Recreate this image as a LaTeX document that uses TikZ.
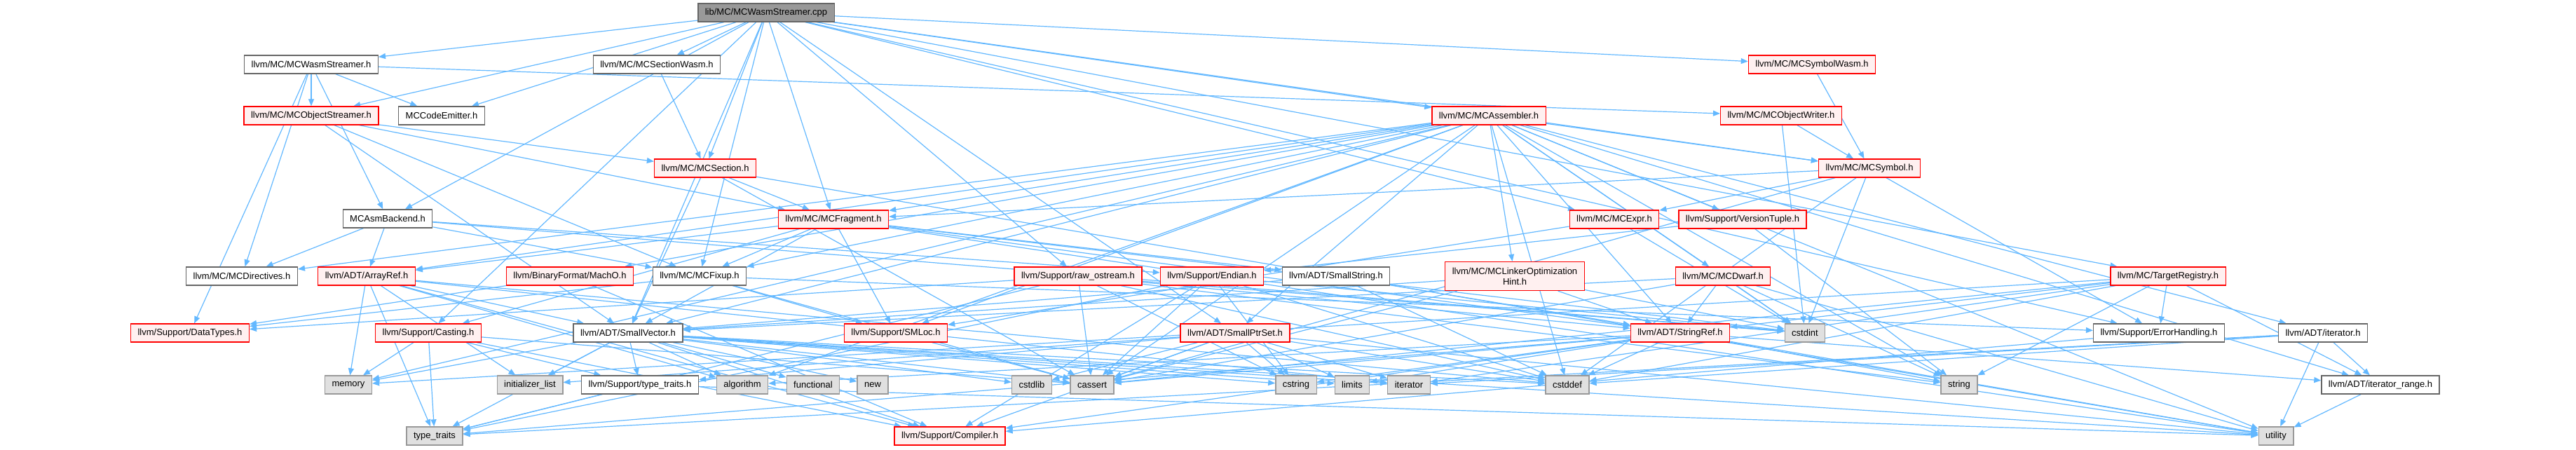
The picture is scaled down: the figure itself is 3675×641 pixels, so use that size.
\documentclass[tikz,border=0pt]{standalone}
\usepackage{fontspec}
\setmainfont{Liberation Sans}
\usepackage{tikz}
\usetikzlibrary{arrows.meta,positioning}
\definecolor{inclblue}{HTML}{63B8FF}
\definecolor{truncfill}{HTML}{FFF0F0}
\definecolor{sysfill}{HTML}{E0E0E0}
\pgfdeclarelayer{back}
\pgfsetlayers{back,main}
\tikzset{
  hdrbox/.style={draw=black!60, fill=white, line width=1.3pt, minimum height=26pt,
    inner xsep=10pt, inner ysep=2pt, font=\fontsize{13}{15}\selectfont},
  trunc/.style={hdrbox, draw=red, fill=truncfill},
  stdbox/.style={hdrbox, draw=black!40, fill=sysfill},
  srcbox/.style={hdrbox, draw=black!60, fill=black!40},
  incl/.style={draw=inclblue, line width=1.2pt, -{Triangle[length=10pt,width=8pt]}}
}
\begin{document}
\begin{tikzpicture}[x=1pt,y=-1pt]
  \useasboundingbox (0,0) rectangle (3675,641);
  \node[srcbox] (root) at (1093,18) {lib/MC/MCWasmStreamer.cpp};
  \node[hdrbox] (wstr) at (444,92) {llvm/MC/MCWasmStreamer.h};
  \node[hdrbox] (secw) at (937,92) {llvm/MC/MCSectionWasm.h};
  \node[trunc] (symw) at (2585,92) {llvm/MC/MCSymbolWasm.h};
  \node[trunc] (ostr) at (444,165) {llvm/MC/MCObjectStreamer.h};
  \node[hdrbox] (cemit) at (630,165) {MCCodeEmitter.h};
  \node[trunc] (asm) at (2124,165) {llvm/MC/MCAssembler.h};
  \node[trunc] (owr) at (2541,165) {llvm/MC/MCObjectWriter.h};
  \node[trunc] (sect) at (1006,240) {llvm/MC/MCSection.h};
  \node[trunc] (sym) at (2667,240) {llvm/MC/MCSymbol.h};
  \node[hdrbox] (asmb) at (553,312) {MCAsmBackend.h};
  \node[trunc] (frag) at (1189,313) {llvm/MC/MCFragment.h};
  \node[trunc] (expr) at (2303,313) {llvm/MC/MCExpr.h};
  \node[trunc] (vtup) at (2486,313) {llvm/Support/VersionTuple.h};
  \node[hdrbox] (dirs) at (345,394) {llvm/MC/MCDirectives.h};
  \node[trunc] (arref) at (523,394) {llvm/ADT/ArrayRef.h};
  \node[trunc] (macho) at (813,394) {llvm/BinaryFormat/MachO.h};
  \node[hdrbox] (fixup) at (998,394) {llvm/MC/MCFixup.h};
  \node[trunc] (rawos) at (1538,394) {llvm/Support/raw\_ostream.h};
  \node[trunc] (endian) at (1729,394) {llvm/Support/Endian.h};
  \node[hdrbox] (sstr) at (1906,394) {llvm/ADT/SmallString.h};
  \node[trunc, align=center, minimum height=41pt] (lohint) at (2161,394)
    {llvm/MC/MCLinkerOptimization\\Hint.h};
  \node[trunc] (dwarf) at (2458,394) {llvm/MC/MCDwarf.h};
  \node[trunc] (treg) at (3093,394) {llvm/MC/TargetRegistry.h};
  \node[trunc] (dtypes) at (271,475) {llvm/Support/DataTypes.h};
  \node[trunc] (cast) at (611,475) {llvm/Support/Casting.h};
  \node[hdrbox] (svec) at (896,475) {llvm/ADT/SmallVector.h};
  \node[trunc] (smloc) at (1278,475) {llvm/Support/SMLoc.h};
  \node[trunc] (sptr) at (1762,475) {llvm/ADT/SmallPtrSet.h};
  \node[trunc] (sref) at (2397,475) {llvm/ADT/StringRef.h};
  \node[stdbox] (cstdint) at (2575,475) {cstdint};
  \node[hdrbox] (errh) at (3080,475) {llvm/Support/ErrorHandling.h};
  \node[hdrbox] (itr) at (3314,475) {llvm/ADT/iterator.h};
  \node[stdbox] (memory) at (497,549) {memory};
  \node[stdbox] (initlist) at (756,549) {initializer\_list};
  \node[hdrbox] (sttr) at (913,549) {llvm/Support/type\_traits.h};
  \node[stdbox] (algo) at (1059,549) {algorithm};
  \node[stdbox] (func) at (1160,549) {functional};
  \node[stdbox] (newh) at (1245,549) {new};
  \node[stdbox] (cstdlib) at (1472,549) {cstdlib};
  \node[stdbox] (cassert) at (1558,549) {cassert};
  \node[stdbox] (cstring) at (1849,549) {cstring};
  \node[stdbox] (limits) at (1929,549) {limits};
  \node[stdbox] (iterator) at (2010,549) {iterator};
  \node[stdbox] (cstddef) at (2236,549) {cstddef};
  \node[stdbox] (string) at (2795,549) {string};
  \node[hdrbox] (itrng) at (3396,549) {llvm/ADT/iterator\_range.h};
  \node[stdbox] (ttraits) at (620,622) {type\_traits};
  \node[trunc] (compiler) at (1355,622) {llvm/Support/Compiler.h};
  \node[stdbox] (utility) at (3247,622) {utility};
  \begin{pgfonlayer}{back}
    \foreach \b in {wstr,secw,symw,ostr,cemit,asm,sect,sym,asmb,frag,expr,fixup,rawos,treg,cast,errh,sptr,svec}
      \draw[incl] (root) -- (\b);
    \foreach \b in {ostr,cemit,owr,asmb,dirs,dtypes}
      \draw[incl] (wstr) -- (\b);
    \draw[incl] (secw) -- (sect);
    \draw[incl] (symw) -- (sym);
    \foreach \b in {sect,frag,fixup,svec}
      \draw[incl] (ostr) -- (\b);
    \foreach \b in {arref,macho,dirs,dwarf,fixup,frag,lohint,sym,smloc,vtup,sptr,svec,sref,itr,itrng,algo,cassert,cstddef,cstdint,memory,string,utility}
      \draw[incl] (asm) -- (\b);
    \foreach \b in {sym,cstdint}
      \draw[incl] (owr) -- (\b);
    \foreach \b in {frag,svec,cassert,utility}
      \draw[incl] (sect) -- (\b);
    \foreach \b in {expr,frag,errh,cassert,cstddef,cstdint}
      \draw[incl] (sym) -- (\b);
    \foreach \b in {arref,dirs,fixup,endian,cstdint}
      \draw[incl] (asmb) -- (\b);
    \foreach \b in {arref,sstr,svec,sref,fixup,cast,smloc,cstdint,utility}
      \draw[incl] (frag) -- (\b);
    \foreach \b in {smloc,cstdint}
      \draw[incl] (expr) -- (\b);
    \foreach \b in {endian,string}
      \draw[incl] (vtup) -- (\b);
    \foreach \b in {svec,compiler,algo,cstddef,initlist,iterator,memory,ttraits}
      \draw[incl] (arref) -- (\b);
    \foreach \b in {dtypes,compiler}
      \draw[incl] (macho) -- (\b);
    \foreach \b in {dtypes,errh,smloc,cassert}
      \draw[incl] (fixup) -- (\b);
    \foreach \b in {sref,dtypes,cassert,cstddef,cstdint,cstring,string,ttraits}
      \draw[incl] (rawos) -- (\b);
    \foreach \b in {compiler,cassert,cstddef,cstdint,cstring,ttraits}
      \draw[incl] (endian) -- (\b);
    \foreach \b in {svec,sref,cstddef}
      \draw[incl] (sstr) -- (\b);
    \foreach \b in {svec,sref,cassert,cstdint}
      \draw[incl] (lohint) -- (\b);
    \foreach \b in {svec,sref,cassert,cstdint,string,utility}
      \draw[incl] (dwarf) -- (\b);
    \foreach \b in {sref,itrng,errh,cassert,cstddef,iterator,memory,string}
      \draw[incl] (treg) -- (\b);
    \foreach \b in {compiler,sttr,cassert,memory,ttraits}
      \draw[incl] (cast) -- (\b);
    \foreach \b in {compiler,sttr,algo,cassert,cstddef,cstdlib,cstring,func,initlist,iterator,limits,memory,newh,ttraits,utility}
      \draw[incl] (svec) -- (\b);
    \draw[incl] (smloc) -- (cassert);
    \foreach \b in {compiler,sttr,cassert,cstddef,cstdlib,cstring,initlist,iterator,limits,utility}
      \draw[incl] (sptr) -- (\b);
    \foreach \b in {itrng,compiler,algo,cassert,cstddef,cstring,limits,string,ttraits,utility}
      \draw[incl] (sref) -- (\b);
    \draw[incl] (errh) -- (compiler);
    \foreach \b in {itrng,cstddef,iterator,ttraits,utility}
      \draw[incl] (itr) -- (\b);
    \foreach \b in {ttraits,utility}
      \draw[incl] (sttr) -- (\b);
    \draw[incl] (itrng) -- (utility);
  \end{pgfonlayer}
\end{tikzpicture}
\end{document}
